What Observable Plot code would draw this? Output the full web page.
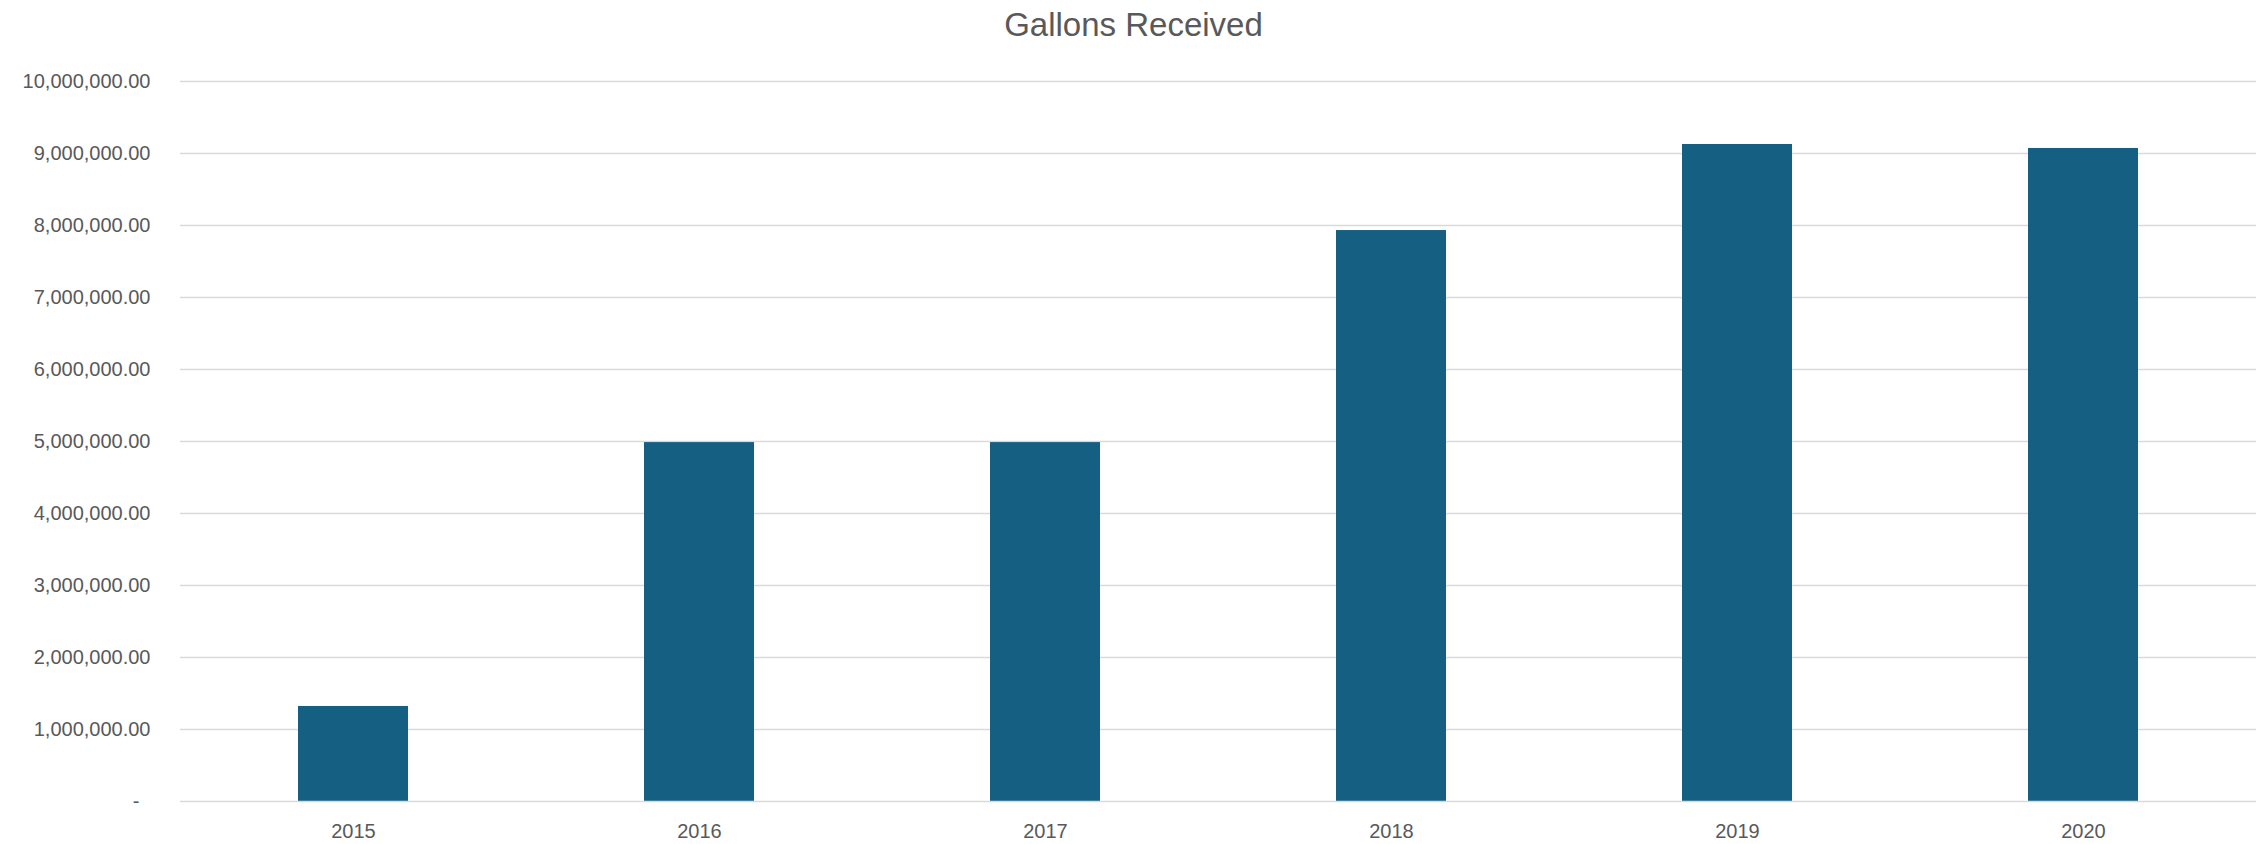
<!DOCTYPE html>
<html>
<head>
<meta charset="utf-8">
<script src="https://cdn.jsdelivr.net/npm/d3@7"></script>
<script src="https://cdn.jsdelivr.net/npm/@observablehq/plot@0.6"></script>
<style>
  html, body { margin: 0; padding: 0; background: #fff; overflow: hidden; }
  #title { width: 2267px; height: 50px; line-height: 50px; text-align: center;
           font-family: "Liberation Sans", Arial, sans-serif; font-size: 33px; color: #595959; }
</style>
</head>
<body>
<div id="title">Gallons Received</div>
<div id="chart"></div>
<script>
const years = ["2015", "2016", "2017", "2018", "2019", "2020"];
const gallons = [1320000, 4985000, 4985000, 7930000, 9125000, 9070000];
const yTicks = [0, 1000000, 2000000, 3000000, 4000000, 5000000, 6000000, 7000000, 8000000, 9000000, 10000000];

const data = years.map((y, i) => ({year: y, value: gallons[i]}));
const fmt = d3.format(",.2f");

const chart = Plot.plot({
  width: 2267,
  height: 794,
  marginTop: 31,
  marginBottom: 43,
  marginLeft: 180,
  marginRight: 11,
  style: {fontFamily: "'Liberation Sans', Arial, sans-serif", fontSize: "20px", color: "#595959", background: "#fff"},
  x: {domain: years, paddingInner: 0.682, paddingOuter: 0.341, label: null, tickSize: 0, tickPadding: 22},
  y: {domain: [0, 10000000], ticks: yTicks, label: null, tickSize: 0, tickPadding: 30,
      tickFormat: d => d === 0 ? "-\u2007" : fmt(d)},
  marks: [
    Plot.gridY(yTicks.filter(d => d > 0), {stroke: "#d9d9d9", strokeOpacity: 1, strokeWidth: 1.3}),
    Plot.barY(data, {x: "year", y: "value", fill: "#156082"}),
    Plot.ruleY([0], {stroke: "#d9d9d9", strokeWidth: 1.6}),
  ]
});
document.getElementById("chart").appendChild(chart);
</script>
</body>
</html>
